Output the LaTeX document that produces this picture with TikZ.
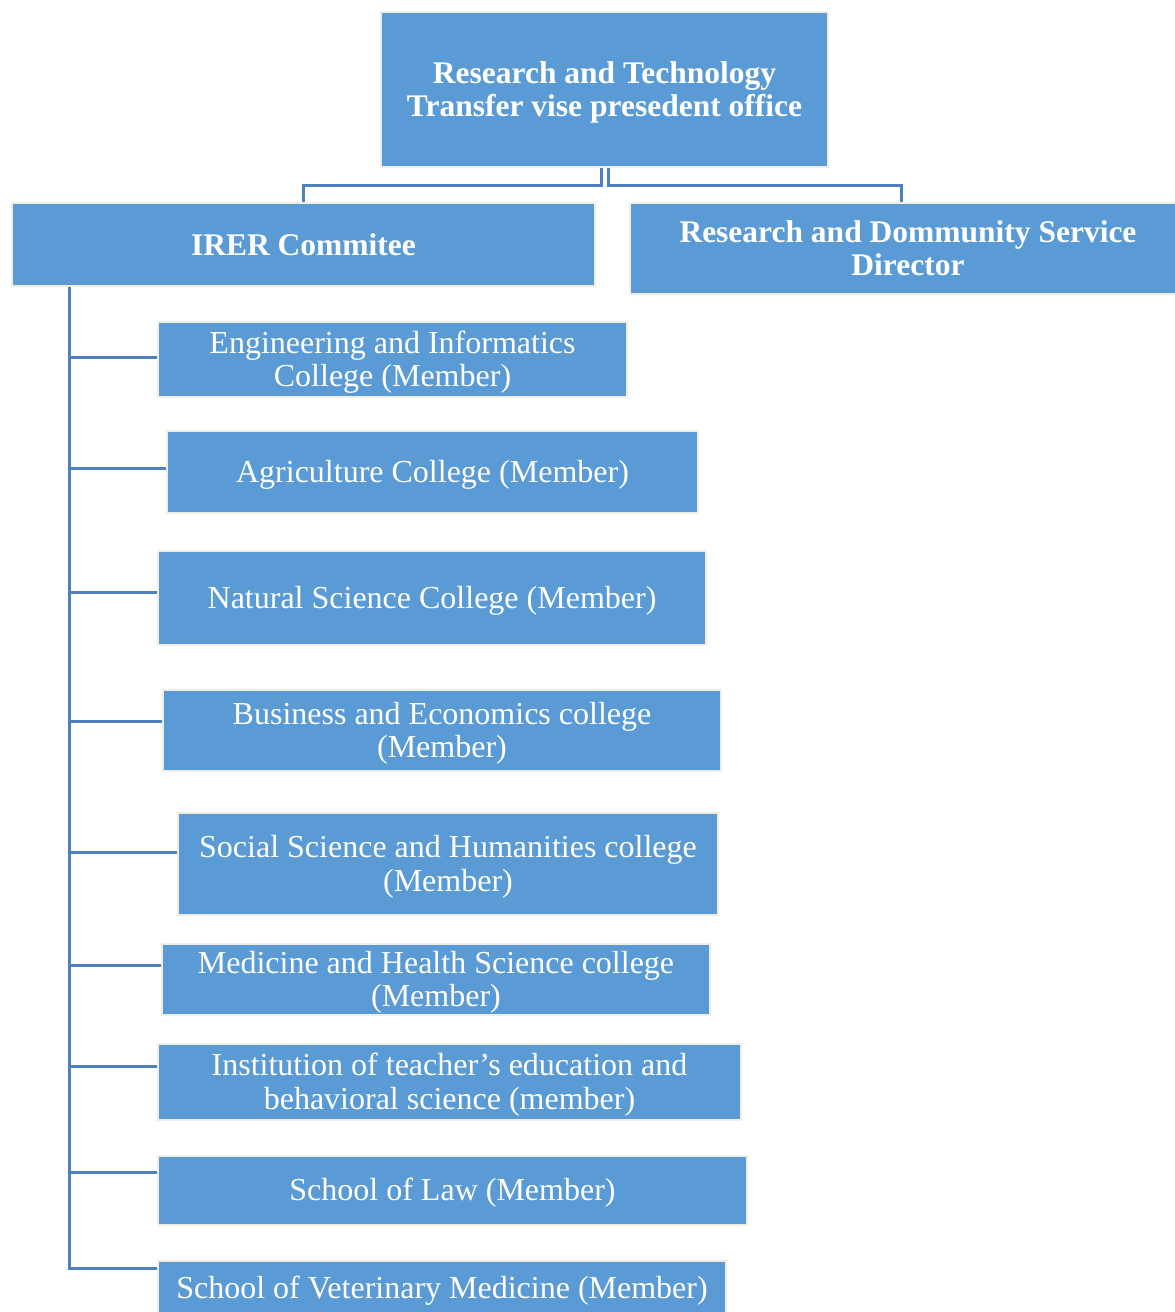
\documentclass[tikz,border=0pt]{standalone}
\usepackage{fontspec}
\setmainfont{Liberation Serif}
\definecolor{boxfill}{HTML}{5B9BD5}
\definecolor{boxedge}{HTML}{F1EDE3}
\definecolor{connc}{HTML}{4F81BD}
\newcommand\topstrut{\rule{0pt}{0.86em}}
\tikzset{
  plainbox/.style={draw=boxedge, line width=2.5pt, fill=boxfill, text=white, align=center,
    inner sep=0pt, font=\fontsize{32}{33.5}\selectfont},
  orgbox/.style={plainbox, execute at begin node={\topstrut}},
  headplain/.style={plainbox, font=\fontsize{31.5}{33}\selectfont\bfseries},
  conn/.style={draw=connc, line width=3pt}
}
\begin{document}
\begin{tikzpicture}[x=1pt,y=-1pt]
\useasboundingbox (0,0) rectangle (1175,1312);
% head boxes
\node[headplain, minimum width=447pt, minimum height=155pt] (top) at (604.5,89.5)
  {\topstrut Research and Technology\\Transfer vise presedent office};
\node[headplain, minimum width=583pt, minimum height=83pt] (irer) at (303.5,244.5)
  {IRER Commitee};
\node[headplain, minimum width=556pt, minimum height=91pt] (dir) at (908,248.5)
  {Research and Dommunity Service\\Director};
% member boxes
\node[plainbox, minimum width=469pt, minimum height=75pt] (eng) at (392.5,359.5)
  {\topstrut Engineering and Informatics\\College (Member)};
\node[orgbox, minimum width=531pt, minimum height=82pt] (agr) at (432.5,472)
  {Agriculture College (Member)};
\node[orgbox, minimum width=548pt, minimum height=94pt] (nat) at (432,598)
  {Natural Science College (Member)};
\node[plainbox, minimum width=558pt, minimum height=81pt] (bus) at (442,730.5)
  {\topstrut Business and Economics college\\(Member)};
\node[plainbox, minimum width=540pt, minimum height=102pt] (soc) at (448,864)
  {\topstrut Social Science and Humanities college\\(Member)};
\node[plainbox, minimum width=548pt, minimum height=71pt] (med) at (436,979.5)
  {\topstrut Medicine and Health Science college\\(Member)};
\node[plainbox, minimum width=583pt, minimum height=76pt] (ins) at (449.5,1082)
  {\topstrut Institution of teacher’s education and\\behavioral science (member)};
\node[orgbox, minimum width=589pt, minimum height=69pt] (law) at (452.5,1190.5)
  {School of Law (Member)};
\node[orgbox, minimum width=568pt, minimum height=54pt] (vet) at (442,1288)
  {School of Veterinary Medicine (Member)};
% top connectors
\draw[conn] ([xshift=-3.5pt]top.south) -- ++(0,17) -| (irer.north);
\draw[conn] ([xshift=3.5pt]top.south) -- ++(0,17) -| ([xshift=-7pt]dir.north);
% spine
\coordinate (sp) at (69,287);
\draw[conn] (sp) -- (sp |- 0,1268) -- (vet.west |- 0,1268);
\foreach \b/\y in {eng/357,agr/468,nat/592,bus/721,soc/852,med/965,ins/1066,law/1172}
  \draw[conn] (sp |- 0,\y) -- (\b.west |- 0,\y);
\end{tikzpicture}
\end{document}
